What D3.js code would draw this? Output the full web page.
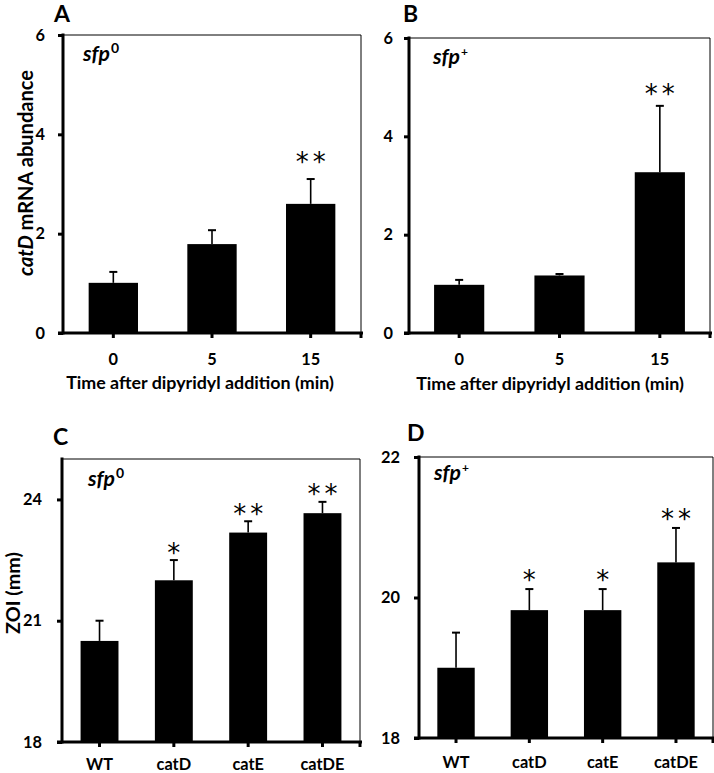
<!DOCTYPE html>
<html><head><meta charset="utf-8">
<script src="https://cdn.jsdelivr.net/npm/d3@7"></script>
<style>body{margin:0;background:#fff}svg{display:block}text{font-family:Lato,"Open Sans",sans-serif;font-weight:bold;fill:#000}</style>
</head><body>
<script>
// ---- data ----
const timeCats = ["0", "5", "15"];
const aValues = [1.01, 1.79, 2.60];
const aErrors = [0.22, 0.28, 0.50];
const aStars = ["", "", "**"];
const bValues = [0.98, 1.17, 3.27];
const bErrors = [0.10, 0.03, 1.35];
const bStars = ["", "", "**"];
const strainCats = ["WT", "catD", "catE", "catDE"];
const cValues = [20.5, 22.0, 23.18, 23.66];
const cErrors = [0.5, 0.5, 0.28, 0.28];
const cStars = ["", "*", "**", "**"];
const dValues = [19.0, 19.82, 19.82, 20.5];
const dErrors = [0.5, 0.3, 0.3, 0.49];
const dStars = ["", "*", "*", "**"];
const aTicks = [0, 2, 4, 6];
const cTicks = [18, 21, 24];
const dTicks = [18, 20, 22];

const svg = d3.select("body").append("svg").attr("width", 714).attr("height", 773);

// font size so that a text reaches a given width
function fitSize(str, width, style) {
  const t = svg.append("text").style("font-size", "100px").style("font-style", style || "normal").text(str);
  const w = t.node().getComputedTextLength();
  t.remove();
  return 100 * width / w;
}
const tickSize = Math.min(19, fitSize("catDE", 44));
const xTitleSize = fitSize("Time after dipyridyl addition (min)", 268);
const ySizeA = fitSize("catD mRNA abundance", 208);
const ySizeC = fitSize("ZOI (mm)", 82);
const sfpSize = fitSize("sfp", 27, "italic");

function panel(o) {
  const g = svg.append("g");
  const x = d3.scaleBand().domain(o.cats).range([o.x0, o.x1]).paddingInner(o.pin).paddingOuter(o.pout);
  const y = d3.scaleLinear().domain(o.domain).range([o.y0, o.y1]);
  const cx = i => x(o.cats[i]) + x.bandwidth() / 2;
  g.append("path").attr("d", `M${o.x0},${o.y1}H${o.x1}V${o.y0}`).attr("fill", "none").attr("stroke", "#000").attr("stroke-width", 1);
  g.selectAll("rect.bar").data(o.values).join("rect")
    .attr("x", (d, i) => x(o.cats[i])).attr("width", x.bandwidth())
    .attr("y", d => y(d)).attr("height", d => y(o.domain[0]) - y(d)).attr("fill", "#000");
  const eb = g.selectAll("g.err").data(o.values).join("g");
  eb.append("line").attr("x1", (d, i) => cx(i)).attr("x2", (d, i) => cx(i))
    .attr("y1", d => y(d)).attr("y2", (d, i) => y(d + o.errors[i])).attr("stroke", "#000").attr("stroke-width", 1.6);
  eb.append("line").attr("x1", (d, i) => cx(i) - 4).attr("x2", (d, i) => cx(i) + 4)
    .attr("y1", (d, i) => y(d + o.errors[i])).attr("y2", (d, i) => y(d + o.errors[i])).attr("stroke", "#000").attr("stroke-width", 2);
  const ss = 26;
  g.selectAll("text.star").data(o.values).join("text")
    .attr("x", (d, i) => cx(i) + 2)
    .attr("y", (d, i) => y(d + o.errors[i]) - o.starGap + 0.56 * ss)
    .attr("text-anchor", "middle").style("font-family", "'DejaVu Sans',sans-serif").style("font-weight", "normal")
    .style("font-size", ss + "px").style("letter-spacing", "4px").style("fill", "#000")
    .text((d, i) => o.stars[i]);
  const ya = d3.axisLeft(y).tickValues(o.ticks).tickSize(5).tickPadding(o.ypad).tickFormat(d3.format("d"));
  const yg = g.append("g").attr("transform", `translate(${o.x0},0)`).call(ya);
  yg.select(".domain").attr("stroke-width", 3).attr("d", `M0,${o.y1 - 1.5}V${o.y0 + 1.5}`);
  yg.selectAll(".tick line").attr("stroke-width", 3);
  yg.selectAll("text").style("font-size", tickSize + "px").style("font-family", "Lato,sans-serif").style("font-weight", "bold");
  const xa = d3.axisBottom(x).tickSize(5).tickPadding(o.xpad);
  const xg = g.append("g").attr("transform", `translate(0,${o.y0})`).call(xa);
  xg.select(".domain").attr("stroke-width", 3).attr("d", `M${o.x0 - 5},0H${o.x1 + 2}`);
  xg.selectAll(".tick line").attr("stroke-width", 3);
  xg.append("line").attr("x1", o.x1).attr("x2", o.x1).attr("y1", 0).attr("y2", 5).attr("stroke", "#000").attr("stroke-width", 3);
  xg.selectAll("text").style("font-size", tickSize + "px").style("font-family", "Lato,sans-serif").style("font-weight", "bold");
  if (o.xTitle) g.append("text").attr("x", o.xTitleX).attr("y", o.xTitleY).attr("text-anchor", "middle").style("font-size", xTitleSize + "px").text(o.xTitle);
  g.append("text").attr("x", o.letterX).attr("y", o.letterY).style("font-size", "23px").text(o.letter);
  const s = g.append("text").attr("x", o.x0 + o.sfpDx).attr("y", o.y1 + o.sfpDy).style("font-size", sfpSize + "px");
  s.append("tspan").style("font-style", "italic").text("sfp");
  s.append("tspan").attr("dx", 1).attr("dy", -8).style("font-size", o.sup === "0" ? "14px" : "12px").text(o.sup);
  if (o.yTitle) {
    const t = g.append("text").attr("transform", `translate(${o.yTitleX},${o.yTitleY}) rotate(-90)`)
      .attr("text-anchor", "middle").style("font-size", o.yTitleSize + "px");
    o.yTitle(t);
  }
}

panel({cats: timeCats, values: aValues, errors: aErrors, stars: aStars, domain: [0, 6], ticks: aTicks,
  x0: 63, x1: 361, y0: 333, y1: 35, pin: 0.5, pout: 0.26, ypad: 13, xpad: 15, starGap: 23,
  xTitle: "Time after dipyridyl addition (min)", xTitleY: 389, xTitleX: 200,
  letter: "A", letterX: 54, letterY: 21.5, sfpDx: 20, sfpDy: 26, sup: "0", yTitleX: 33, yTitleY: 173, yTitleSize: ySizeA,
  yTitle: t => { t.append("tspan").style("font-style", "italic").text("catD"); t.append("tspan").text(" mRNA abundance"); }});
panel({cats: timeCats, values: bValues, errors: bErrors, stars: bStars, domain: [0, 6], ticks: aTicks,
  x0: 409, x1: 710, y0: 333, y1: 38, pin: 0.5, pout: 0.25, ypad: 11, xpad: 15, starGap: 17,
  xTitle: "Time after dipyridyl addition (min)", xTitleY: 390, xTitleX: 550,
  letter: "B", letterX: 403, letterY: 21.5, sfpDx: 24, sfpDy: 26, sup: "+"});
panel({cats: strainCats, values: cValues, errors: cErrors, stars: cStars, domain: [18, 25], ticks: cTicks,
  x0: 62, x1: 360, y0: 742, y1: 459, pin: 0.49, pout: 0.25, ypad: 15, xpad: 11, starGap: 13,
  letter: "C", letterX: 53, letterY: 445, sfpDx: 26, sfpDy: 27, sup: "0", yTitleX: 20, yTitleY: 593, yTitleSize: ySizeC,
  yTitle: t => { t.text("ZOI (mm)"); }});
panel({cats: strainCats, values: dValues, errors: dErrors, stars: dStars, domain: [18, 22], ticks: dTicks,
  x0: 419, x1: 713, y0: 738, y1: 457, pin: 0.49, pout: 0.25, ypad: 14, xpad: 13, starGap: 15,
  letter: "D", letterX: 407, letterY: 441, sfpDx: 15, sfpDy: 23, sup: "+"});
</script>
</body></html>
